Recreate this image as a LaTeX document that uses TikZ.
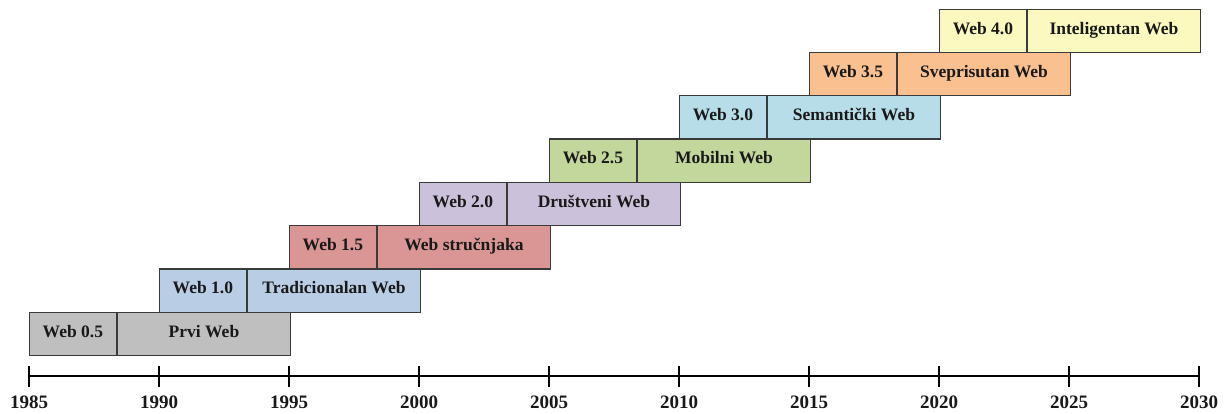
\documentclass[tikz,border=0pt]{standalone}
\usepackage{fontspec}
\setmainfont{Liberation Serif}
\definecolor{c05}{HTML}{BFBFBF}
\definecolor{c10}{HTML}{B9CDE5}
\definecolor{c15}{HTML}{D99694}
\definecolor{c20}{HTML}{CCC1DA}
\definecolor{c25}{HTML}{C3D69B}
\definecolor{c30}{HTML}{B7DEE8}
\definecolor{c35}{HTML}{FAC090}
\definecolor{c40}{HTML}{FBF9BF}
\definecolor{edge}{HTML}{3A3A3A}
\tikzset{
  cell/.style={draw=edge, line width=1.1pt, inner sep=0pt, minimum height=43.3pt,
    font=\fontsize{17.5}{19}\selectfont\bfseries, text=black!90,
    text height=0.66em, text depth=0pt},
  vcell/.style={cell, minimum width=86.67pt, anchor=north west},
  ncell/.style={cell, minimum width=173.33pt, anchor=west},
  year/.style={font=\fontsize{19}{21}\selectfont\bfseries, text=black!90}
}
\begin{document}
\begin{tikzpicture}[x=1pt,y=-1pt]
\useasboundingbox (0,0) rectangle (1228,414);
% rows
\node[vcell, fill=c05] (v0) at (29,311.7) {Web 0.5};
\node[ncell, fill=c05] (n0) at (v0.east) {Prvi Web};
\node[vcell, fill=c10] (v1) at (159,268.4) {Web 1.0};
\node[ncell, fill=c10] (n1) at (v1.east) {Tradicionalan Web};
\node[vcell, fill=c15] (v2) at (289,225.1) {Web 1.5};
\node[ncell, fill=c15] (n2) at (v2.east) {Web stručnjaka};
\node[vcell, fill=c20] (v3) at (419,181.8) {Web 2.0};
\node[ncell, fill=c20] (n3) at (v3.east) {Društveni Web};
\node[vcell, fill=c25] (v4) at (549,138.5) {Web 2.5};
\node[ncell, fill=c25] (n4) at (v4.east) {Mobilni Web};
\node[vcell, fill=c30] (v5) at (679,95.2) {Web 3.0};
\node[ncell, fill=c30] (n5) at (v5.east) {Semantički Web};
\node[vcell, fill=c35] (v6) at (809,51.9) {Web 3.5};
\node[ncell, fill=c35] (n6) at (v6.east) {Sveprisutan Web};
\node[vcell, fill=c40] (v7) at (939,8.6) {Web 4.0};
\node[ncell, fill=c40] (n7) at (v7.east) {Inteligentan Web};
% axis
\coordinate (a0) at (29,376);
\coordinate (a1) at (1199,376);
\draw[line width=1.1pt] (a0) -- (a1);
\foreach \i/\y in {0/1985,1/1990,2/1995,3/2000,4/2005,5/2010,6/2015,7/2020,8/2025,9/2030}{
  \coordinate (t\i) at ({29+130*\i},376);
  \draw[line width=1.1pt] ([yshift=10pt]t\i) -- ([yshift=-11pt]t\i);
  \node[year] (y\i) at ({29+130*\i},402) {\y};
}
\end{tikzpicture}
\end{document}
